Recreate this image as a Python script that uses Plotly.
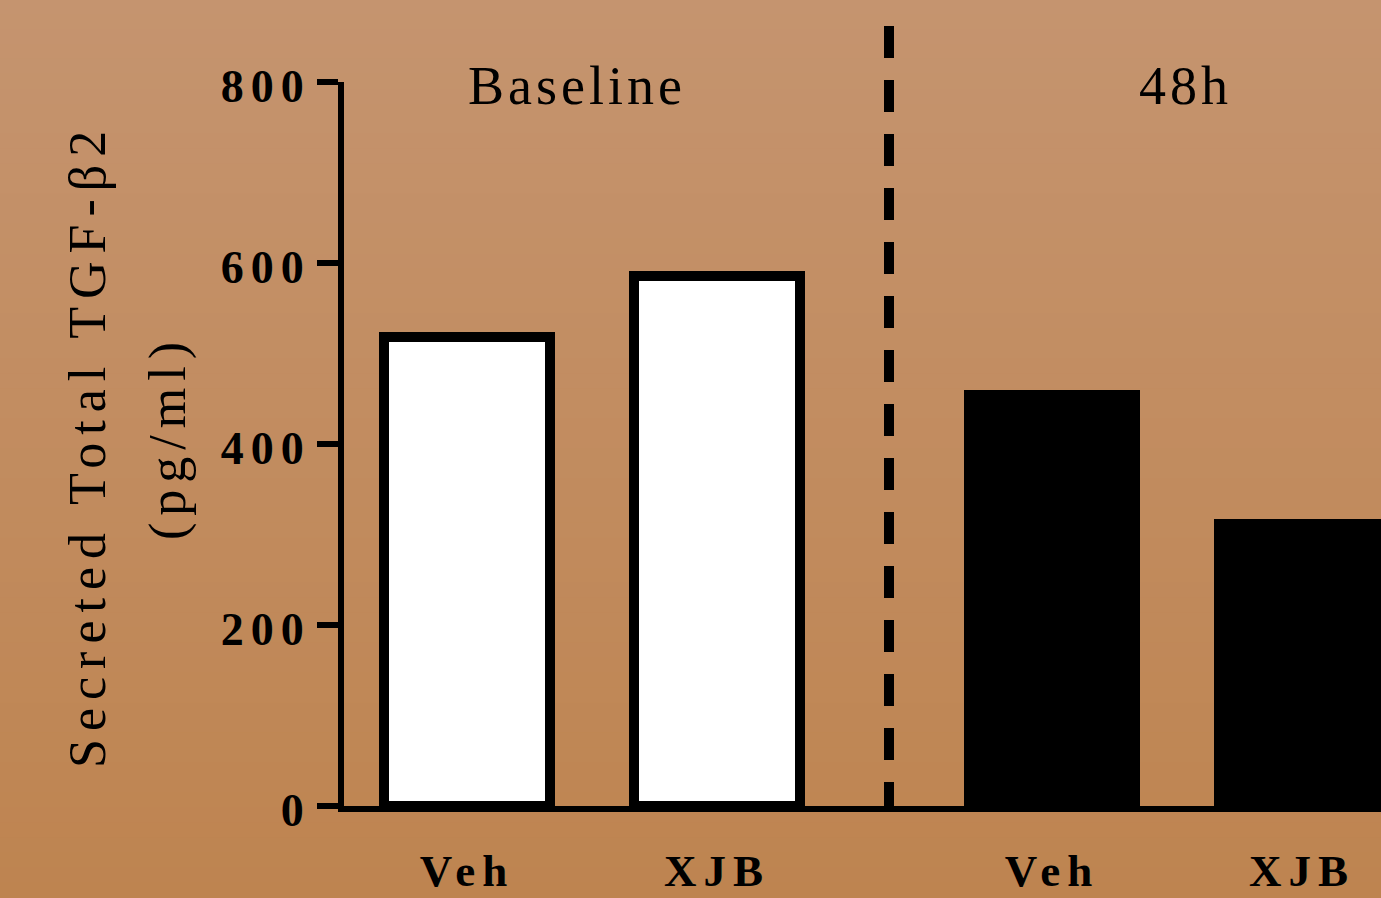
import plotly.graph_objects as go

# Secreted total TGF-beta2 (pg/ml), baseline vs 48 h
groups = ["Baseline", "48h"]
categories = ["Veh", "XJB"]
baseline_values = [518, 586]
h48_values = [454, 312]
y_ticks = [0, 200, 400, 600, 800]

# layout constants
serif = "Liberation Serif"
bar_width = 0.664
group_offset = 2.34
x_base = [0, 1]
x_48h = [x + group_offset for x in x_base]


def spaced(t, px=7):
    return f'<span style="letter-spacing:{px}px">{t}</span>'


fig = go.Figure()

fig.add_trace(go.Bar(
    x=x_base, y=baseline_values, width=bar_width,
    marker=dict(color="white", line=dict(color="black", width=10)),
    showlegend=False, hoverinfo="skip",
))
fig.add_trace(go.Bar(
    x=x_48h, y=h48_values, width=bar_width,
    marker=dict(color="black", line=dict(color="black", width=10)),
    showlegend=False, hoverinfo="skip",
))

# vertical gradient background built from thin bands
top_rgb = (197, 148, 111)
bot_rgb = (190, 132, 80)
n_bands = 60
W, H = 1381, 898
ml, mr, mt, mb = 344, 0, 82, 92
pw, ph = W - ml - mr, H - mt - mb
shapes = []
for i in range(n_bands):
    f = (i + 0.5) / n_bands
    col = tuple(round(a + (b - a) * f) for a, b in zip(top_rgb, bot_rgb))
    py0 = H * i / n_bands - 1
    py1 = H * (i + 1) / n_bands + 1
    shapes.append(dict(
        type="rect", xref="paper", yref="paper", layer="below",
        x0=-(ml + 2) / pw, x1=1 + (mr + 2) / pw,
        y0=(H - mb - py1) / ph, y1=(H - mb - py0) / ph,
        fillcolor=f"rgb{col}", line=dict(width=0),
    ))

# dashed separator between the two time points
sep_x = (x_base[-1] + x_48h[0]) / 2 + 0.018
shapes.append(dict(
    type="line", xref="x", yref="paper",
    x0=sep_x, x1=sep_x, y0=(H - mb - 26) / ph, y1=(H - mb - 808) / ph,
    line=dict(color="black", width=10, dash="32px,22px"),
))

annotations = [
    dict(text=spaced(groups[0], 4), x=0.44, y=(H - mb - 86) / ph,
         xref="x", yref="paper", showarrow=False,
         xanchor="center", yanchor="middle",
         font=dict(family=serif, size=54, color="black")),
    dict(text=spaced(groups[1], 4), x=2.875, y=(H - mb - 86) / ph,
         xref="x", yref="paper", showarrow=False,
         xanchor="center", yanchor="middle",
         font=dict(family=serif, size=54, color="black")),
    dict(text=spaced("Secreted Total TGF-β2", 8), x=(88 - ml) / pw,
         y=(H - mb - 446) / ph, xref="paper", yref="paper",
         showarrow=False, textangle=-90,
         xanchor="center", yanchor="middle",
         font=dict(family=serif, size=52, color="black")),
    dict(text=spaced("(pg/ml)", 7), x=(168 - ml) / pw,
         y=(H - mb - 438) / ph, xref="paper", yref="paper",
         showarrow=False, textangle=-90,
         xanchor="center", yanchor="middle",
         font=dict(family=serif, size=52, color="black")),
]

fig.update_layout(
    width=W, height=H,
    margin=dict(l=ml, r=mr, t=mt, b=mb, pad=0, autoexpand=False),
    paper_bgcolor="rgb(194,140,95)",
    plot_bgcolor="rgba(0,0,0,0)",
    shapes=shapes,
    annotations=annotations,
    bargap=0,
    xaxis=dict(
        range=[(ml - 467) / 250, (W - mr - 467) / 250],
        tickvals=x_base + x_48h,
        ticktext=[spaced(c) for c in categories * 2],
        tickfont=dict(family=serif, size=45, color="black", weight="bold"),
        ticks="", ticklabelstandoff=20, automargin=False,
        showline=True, linecolor="black", linewidth=6,
        showgrid=False, zeroline=False, fixedrange=True,
    ),
    yaxis=dict(
        range=[0, 800],
        tickvals=y_ticks,
        ticktext=[spaced(v) for v in y_ticks],
        tickfont=dict(family=serif, size=46, color="black", weight="bold"),
        ticks="outside", ticklen=21, tickwidth=6, tickcolor="black",
        ticklabelstandoff=-3, ticklabelshift=4, automargin=False,
        showline=True, linecolor="black", linewidth=6,
        showgrid=False, zeroline=False, fixedrange=True,
    ),
)

fig.write_html("out.html")
